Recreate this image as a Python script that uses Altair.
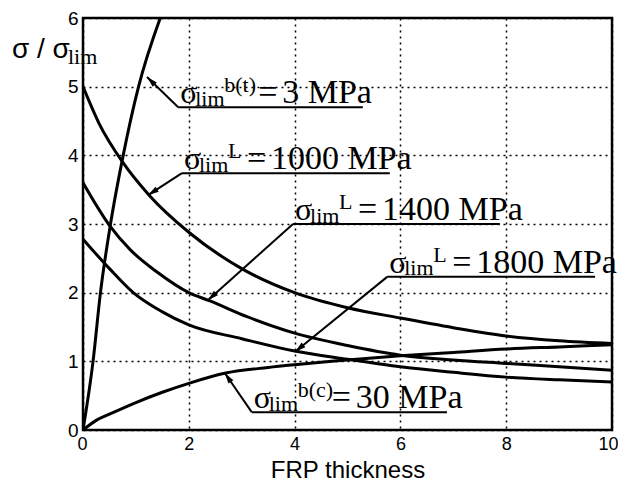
import math
import altair as alt
import pandas as pd

# ---------------- data ----------------
x_L1000 = [0, 0.3, 0.75, 1.25, 2, 3, 4, 5, 6, 7, 8, 9, 10]
y_L1000 = [5.0, 4.47, 3.9, 3.42, 2.88, 2.35, 2.0, 1.78, 1.63, 1.49, 1.37, 1.3, 1.26]

x_L1400 = [0, 0.5, 0.9, 1.4, 2, 2.4, 3.1, 4, 5, 6, 7, 8, 9, 10]
y_L1400 = [3.6, 2.98, 2.62, 2.3, 2.0, 1.88, 1.65, 1.41, 1.23, 1.09, 1.02, 0.97, 0.92, 0.87]

x_L1800 = [0, 0.5, 0.95, 1.5, 2, 3, 4, 5, 6, 7, 8, 9, 10]
y_L1800 = [2.78, 2.35, 2.0, 1.72, 1.53, 1.33, 1.15, 1.03, 0.92, 0.84, 0.77, 0.73, 0.70]

x_bc = [0, 0.25, 0.5, 1, 1.5, 2, 2.7, 3.5, 4, 4.7, 6, 7, 8, 9, 10]
y_bc = [0, 0.14, 0.23, 0.40, 0.55, 0.68, 0.83, 0.91, 0.95, 1.0, 1.08, 1.13, 1.18, 1.21, 1.24]

x_bt = [0, 0.19, 0.33, 0.52, 0.76, 1.05, 1.46]
y_bt = [0, 1, 2, 3, 4, 5, 6]

x_ticks = [0, 2, 4, 6, 8, 10]
y_ticks = [0, 1, 2, 3, 4, 5, 6]

# annotation labels: superscript, value text, arrow tip, label anchor (underline start), underline end
ann_sup = ["b(t)", "L", "L", "L", "b(c)"]
ann_val = ["3 MPa", "1000 MPa", "1400 MPa", "1800 MPa", "30 MPa"]
ann_tip_x = [1.21, 1.23, 2.36, 4.01, 2.68]
ann_tip_y = [5.14, 3.42, 1.89, 1.14, 0.83]
ann_tail_x = [1.80, 1.87, 3.97, 5.75, 3.19]
ann_tail_y = [4.70, 3.74, 3.00, 2.23, 0.26]
ann_end_x = [5.29, 5.80, 7.88, 9.68, 6.88]

# ---------------- layout ----------------
W, H = 529, 412
PX = W / 10.0
PY = H / 6.0

rows = []
for name, xs_, ys_ in [("L1000", x_L1000, y_L1000), ("L1400", x_L1400, y_L1400),
                       ("L1800", x_L1800, y_L1800), ("bc", x_bc, y_bc), ("bt", x_bt, y_bt)]:
    for i, (a, b) in enumerate(zip(xs_, ys_)):
        rows.append({"series": name, "i": i, "x": a, "y": b})
lines_df = pd.DataFrame(rows)

arrow_rows, under_rows, head_rows = [], [], []
sig_rows, sub_rows, sup_rows, main_rows = [], [], [], []
SUPW = {"b(t)": 27, "b(c)": 27, "L": 12}
for k in range(len(ann_sup)):
    tx, ty = ann_tail_x[k], ann_tail_y[k]
    px_, py_ = ann_tip_x[k], ann_tip_y[k]
    arrow_rows.append({"x": tx, "y": ty, "x2": px_, "y2": py_})
    under_rows.append({"x": tx, "y": ty, "x2": ann_end_x[k]})
    dxp = (px_ - tx) * PX
    dyp = -(py_ - ty) * PY
    ang = math.degrees(math.atan2(dxp, -dyp)) % 360
    head_rows.append({"x": px_, "y": py_, "ang": ang})

    def at(dx, dy):
        return tx + dx / PX, ty + dy / PY

    sx, sy = at(2, 4)
    sig_rows.append({"x": sx, "y": sy, "t": "σ"})
    lx, ly = at(17, 1.5)
    sub_rows.append({"x": lx, "y": ly, "t": "lim"})
    ux, uy = at(46, 15)
    sup_rows.append({"x": ux, "y": uy, "t": ann_sup[k]})
    eqd = 46 + SUPW[ann_sup[k]] + 7
    ex, ey = at(eqd, 4)
    main_rows.append({"x": ex, "y": ey, "t": "="})
    vx, vy = at(eqd + 24, 4)
    main_rows.append({"x": vx, "y": vy, "t": ann_val[k]})

# y-axis title pieces (placed just outside the plot, top left)
ytitle_main = pd.DataFrame([{"x": (12 - 83) / PX, "y": (430 - 58) / PY, "t": "σ / σ"}])
ytitle_sub = pd.DataFrame([{"x": (68 - 83) / PX, "y": (430 - 64) / PY, "t": "lim"}])

xs = alt.Scale(domain=[0, 10], nice=False, zero=False)
ys = alt.Scale(domain=[0, 6], nice=False, zero=False)

x_axis = alt.Axis(values=x_ticks, title="FRP thickness", grid=True, ticks=False, domain=False,
                  labelFlush=True, labelFlushOffset=6, labelFont="Liberation Sans",
                  labelFontSize=18, labelColor="black", labelPadding=5,
                  titleFont="Liberation Sans", titleFontSize=24, titleFontWeight="normal",
                  titleColor="black", titleBaseline="alphabetic", titleY=47,
                  gridColor="black", gridDash=[2, 4], gridWidth=1.5, gridOpacity=1)
y_axis = alt.Axis(values=y_ticks, title=None, grid=True, ticks=False, domain=False,
                  labelFlush=False, labelFont="Liberation Sans", labelFontSize=19,
                  labelColor="black", labelPadding=5, gridColor="black", gridDash=[2, 4],
                  gridWidth=1.5, gridOpacity=1)

X = alt.X("x:Q", scale=xs, axis=x_axis)
Y = alt.Y("y:Q", scale=ys, axis=y_axis)

lines = alt.Chart(lines_df).mark_line(color="black", strokeWidth=3, clip=True,
                                      interpolate="monotone").encode(
    x=X, y=Y, detail="series:N", order="i:Q")

arrows = alt.Chart(pd.DataFrame(arrow_rows)).mark_rule(color="black", strokeWidth=2).encode(
    x=X, y=Y, x2="x2:Q", y2="y2:Q")
unders = alt.Chart(pd.DataFrame(under_rows)).mark_rule(color="black", strokeWidth=2).encode(
    x=X, y=Y, x2="x2:Q")
heads = alt.Chart(pd.DataFrame(head_rows)).mark_point(
    shape="M0,0L0.5,1.8L-0.5,1.8Z", filled=True, size=144, color="black", opacity=1,
    strokeWidth=0).encode(x=X, y=Y, angle=alt.Angle("ang:Q", scale=None))


def txt(df, font, size):
    data = df if isinstance(df, pd.DataFrame) else pd.DataFrame(df)
    return alt.Chart(data).mark_text(
        font=font, fontSize=size, align="left", baseline="alphabetic", color="black").encode(
        x=X, y=Y, text="t:N")


layers = [lines, arrows, unders, heads,
          txt(sig_rows, "Liberation Serif", 32),
          txt(sub_rows, "Liberation Serif", 22),
          txt(sup_rows, "Liberation Serif", 22),
          txt(main_rows, "Liberation Serif", 34),
          txt(ytitle_main, "Liberation Sans", 28),
          txt(ytitle_sub, "Liberation Serif", 22)]

chart = alt.layer(*layers).properties(
    width=W, height=H,
    autosize=alt.AutoSizeParams(type="none"),
    padding={"left": 75, "top": 10, "right": 6, "bottom": 53},
    background="white",
).configure_view(stroke="black", strokeWidth=2.5)

chart.save("out.html", embed_options={"renderer": "svg", "actions": False})
